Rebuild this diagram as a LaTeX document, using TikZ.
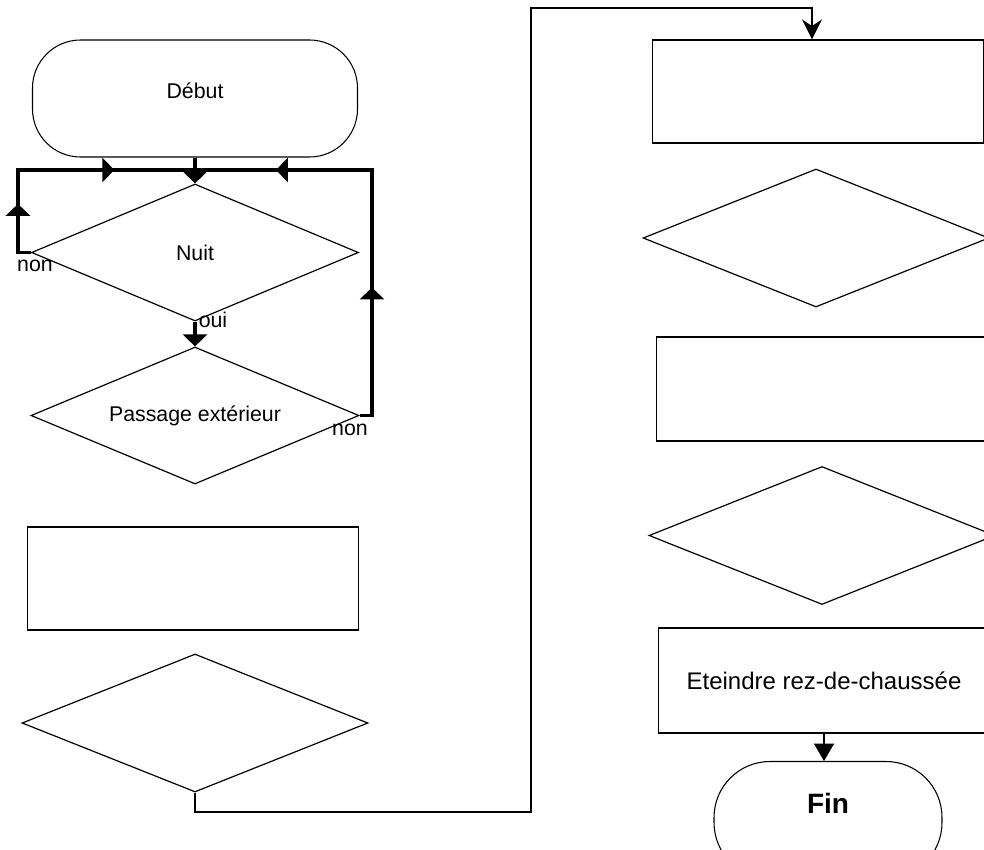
\documentclass[tikz,border=0pt]{standalone}
\usepackage{fontspec}
\setmainfont{Liberation Sans}
\usetikzlibrary{arrows.meta,shapes.geometric,decorations.markings}

\tikzset{
  tipA/.tip={Triangle[length=9pt,width=18pt]},
  tipB/.tip={Stealth[length=15pt,width=15pt,inset=5pt]},
  tipC/.tip={Triangle[length=13pt,width=15pt]},
  term/.style={draw, rectangle, rounded corners=36pt, line width=0.8pt},
  boite/.style={draw, rectangle, line width=0.9pt, minimum width=248.25pt, minimum height=77.25pt},
  test/.style={draw, diamond, aspect=2.5, inner sep=0pt, line width=0.9pt, minimum width=259.5pt, minimum height=103.5pt},
  boucle/.style={line width=2.6pt},
  flux/.style={line width=0.9pt},
  lbl/.style={inner sep=0pt},
  fleches/.style 2 args={postaction={decorate}, decoration={markings,
      mark=at position #1 with {\arrow{tipA}}, mark=at position #2 with {\arrow{tipA}}}},
}

\begin{document}
\begin{tikzpicture}[x=0.75pt, y=-0.75pt, font=\fontsize{16}{19}\selectfont]
\useasboundingbox (0,0) rectangle (984,849);

% colonne de gauche
\node [term, minimum width=243.75pt, minimum height=87.75pt, text depth=12pt] (debut) at (195,98.5) {Début};
\node [test, minimum width=245.25pt, minimum height=102.75pt] (nuit) at (195,252.5) {Nuit};
\node [test, minimum width=246pt, minimum height=102.75pt] (passage) at (195,415.5) {Passage extérieur};
\node [boite] (boiteA) at (193,578.5) {};
\node [test] (testA) at (195,723) {};

% colonne de droite
\node [boite] (boiteB) at (818,91.5) {};
\node [test] (testB) at (816,238) {};
\node [boite, minimum height=78pt] (boiteC) at (822,389) {};
\node [test] (testC) at (822,535.5) {};
\node [boite, minimum height=78.75pt, font=\fontsize{18}{22}\selectfont] (eteindre) at (824,680.5) {Eteindre rez-de-chaussée};
\node [term, rounded corners=42pt, minimum width=171pt, minimum height=87.75pt, text depth=25pt,
       font=\fontsize{21}{25}\selectfont\bfseries] (fin) at (828,820) {Fin};

% boucles
\coordinate (busL) at (18,170);
\coordinate (busR) at (372,170);
\coordinate (busM) at (debut.south |- busL);
\draw [boucle, fleches={0.226}{0.704}] (nuit.west) -| (busL) -- (busM);
\draw [boucle, fleches={0.323}{0.814}] (passage.east) -| (busR) -- (busM);
\draw [boucle, -{tipA}] (debut.south) -- (nuit.north);
\draw [boucle, -{tipA}] (nuit.south) -- (passage.north);

\node [lbl] (nonA) at (35,266) {non};
\node [lbl] (oui) at (213,320) {oui};
\node [lbl] (nonB) at (350,430) {non};

% liaisons
\coordinate (renvoiA) at (531,812);
\coordinate (renvoiB) at (812,8);
\draw [flux, -{tipB}] (testA.south) |- (renvoiA) |- (renvoiB) -- ([xshift=-4.5pt]boiteB.north);
\draw [flux, -{tipC}] (eteindre.south) -- (eteindre.south |- fin.north);
\end{tikzpicture}
\end{document}
